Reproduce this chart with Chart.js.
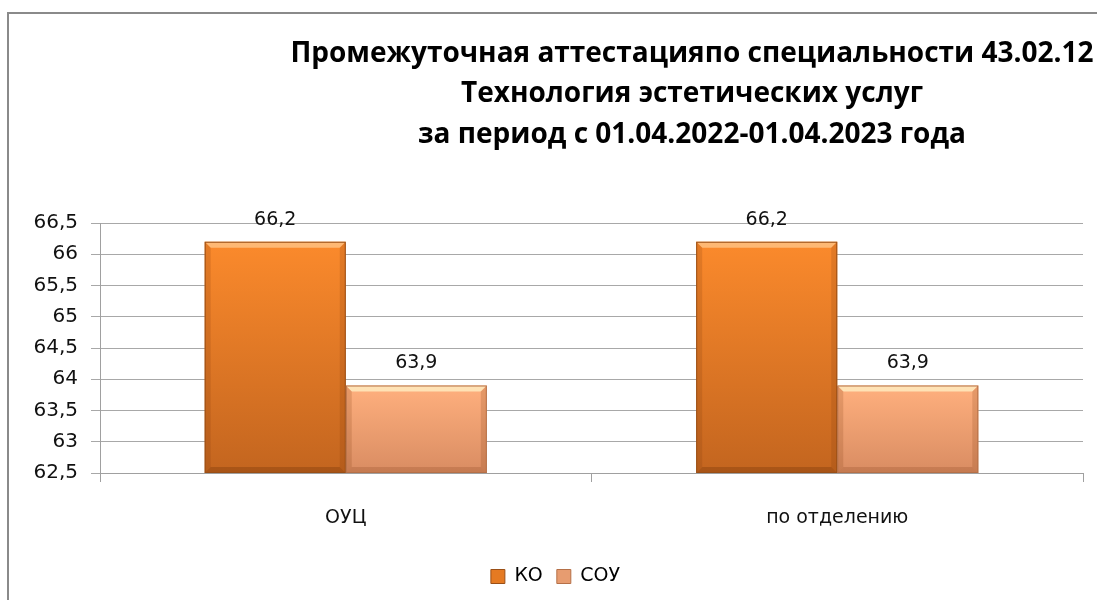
<!DOCTYPE html>
<html><head><meta charset="utf-8">
<script src="https://cdn.jsdelivr.net/npm/chart.js@4"></script>
<style>html,body{margin:0;padding:0;background:#fff}#wrap{width:1097px;height:600px;position:relative}</style>
</head><body><div id="wrap"><canvas id="c" width="1097" height="600"></canvas></div>
<script>
const titleLines = ['Промежуточная аттестацияпо специальности 43.02.12', 'Технология эстетических услуг', 'за период с 01.04.2022-01.04.2023 года'];
const categories = ['ОУЦ', 'по отделению'];
const seriesNames = ['КО', 'СОУ'];
const koValues = [66.2, 66.2];
const souValues = [63.9, 63.9];
const yTicks = [62.5, 63, 63.5, 64, 64.5, 65, 65.5, 66, 66.5];

const FONT = '"DejaVu Sans", Verdana, sans-serif';
const palettes = [
  {top: '#fb8a2c', bottom: '#c3651f', border: '#9a4f16', light: 'rgba(255,200,140,0.75)', dark: 'rgba(120,55,10,0.35)', legend: '#e57a22'},
  {top: '#ffb07e', bottom: '#d98c62', border: '#b57048', light: 'rgba(255,235,190,0.85)', dark: 'rgba(140,70,30,0.25)', legend: '#e79c70'}
];
const fmt = v => String(v).replace('.', ',');

function grad(c, pal) {
  const chart = c.chart;
  if (!chart.chartArea || c.raw === undefined) return pal.legend;
  const y = chart.scales.y;
  const top = y.getPixelForValue(c.raw), bot = chart.chartArea.bottom;
  const g = chart.ctx.createLinearGradient(0, top, 0, bot);
  g.addColorStop(0, pal.top); g.addColorStop(1, pal.bottom);
  return g;
}

const framePlugin = {
  id: 'frame',
  beforeDraw(chart) {
    const ctx = chart.ctx;
    ctx.save();
    ctx.fillStyle = '#fff'; ctx.fillRect(0, 0, chart.width, chart.height);
    ctx.strokeStyle = '#8a8a8a'; ctx.lineWidth = 2;
    ctx.strokeRect(8, 13, chart.width + 20, chart.height + 20);
    ctx.restore();
  }
};
const titlePlugin = {
  id: 'multiTitle',
  afterDraw(chart) {
    const ctx = chart.ctx;
    ctx.save();
    ctx.fillStyle = '#000';
    ctx.textAlign = 'center'; ctx.textBaseline = 'alphabetic';
    ctx.font = 'bold 28px "Open Sans", sans-serif';
    const base = [62, 102, 143];
    titleLines.forEach((t, i) => ctx.fillText(t, 692, base[i]));
    ctx.restore();
  }
};
const bevelPlugin = {
  id: 'bevel',
  afterDatasetsDraw(chart) {
    const ctx = chart.ctx;
    const bottom = chart.chartArea.bottom;
    chart.data.datasets.forEach((ds, di) => {
      const pal = palettes[di];
      chart.getDatasetMeta(di).data.forEach((el, i) => {
        const l = el.x - el.width / 2, r = el.x + el.width / 2, t = el.y, b = Math.min(el.base, bottom), e = 6;
        ctx.save();
        ctx.fillStyle = pal.light;
        ctx.beginPath(); ctx.moveTo(l, t); ctx.lineTo(r, t); ctx.lineTo(r - e, t + e); ctx.lineTo(l + e, t + e); ctx.closePath(); ctx.fill();
        ctx.fillStyle = pal.dark;
        ctx.beginPath(); ctx.moveTo(l, b); ctx.lineTo(r, b); ctx.lineTo(r - e, b - e); ctx.lineTo(l + e, b - e); ctx.closePath(); ctx.fill();
        ctx.fillStyle = 'rgba(120,55,10,0.18)';
        ctx.beginPath(); ctx.moveTo(l, t); ctx.lineTo(l + e, t + e); ctx.lineTo(l + e, b - e); ctx.lineTo(l, b); ctx.closePath(); ctx.fill();
        ctx.beginPath(); ctx.moveTo(r, t); ctx.lineTo(r - e, t + e); ctx.lineTo(r - e, b - e); ctx.lineTo(r, b); ctx.closePath(); ctx.fill();
        ctx.strokeStyle = pal.border; ctx.lineWidth = 1;
        ctx.strokeRect(l + 0.5, t + 0.5, el.width - 1, b - t - 1);
        ctx.fillStyle = '#111';
        ctx.font = '19px ' + FONT;
        ctx.textAlign = 'center'; ctx.textBaseline = 'middle';
        ctx.fillText(fmt(ds.data[i]), el.x, t - 22);
        ctx.restore();
      });
    });
  }
};

new Chart(document.getElementById('c'), {
  type: 'bar',
  data: {
    labels: categories,
    datasets: [
      {label: seriesNames[0], data: koValues, backgroundColor: c => grad(c, palettes[0]), borderWidth: 0},
      {label: seriesNames[1], data: souValues, backgroundColor: c => grad(c, palettes[1]), borderWidth: 0}
    ]
  },
  options: {
    responsive: false, animation: false, devicePixelRatio: 1,
    layout: {padding: {top: 223, left: 28, right: 14, bottom: 4}},
    categoryPercentage: 0.574, barPercentage: 1,
    plugins: {
      title: {display: false},
      tooltip: {enabled: false},
      legend: {
        position: 'bottom',
        labels: {
          font: {size: 19, family: FONT}, color: '#111', boxWidth: 14, boxHeight: 14, padding: 14,
          generateLabels: chart => chart.data.datasets.map((d, i) => ({text: d.label, fillStyle: palettes[i].legend, strokeStyle: palettes[i].border, lineWidth: 1, datasetIndex: i}))
        }
      }
    },
    scales: {
      x: {
        grid: {display: true, drawOnChartArea: false, drawTicks: true, tickLength: 9, color: '#a0a0a0', offset: true},
        border: {display: true, color: '#a0a0a0'},
        ticks: {font: {size: 19, family: FONT}, color: '#111', padding: 25},
        afterFit: s => { s.height = 80; }
      },
      y: {
        min: 62.5, max: 66.5,
        afterBuildTicks: s => { s.ticks = yTicks.map(v => ({value: v})); },
        grid: {color: '#a8a8a8', tickLength: 9},
        border: {display: true, color: '#a0a0a0'},
        ticks: {font: {size: 20, family: FONT}, color: '#111', padding: 13, callback: v => fmt(v)},
        afterFit: s => { s.width = 72; }
      }
    }
  },
  plugins: [framePlugin, titlePlugin, bevelPlugin]
});
</script>
</body></html>
